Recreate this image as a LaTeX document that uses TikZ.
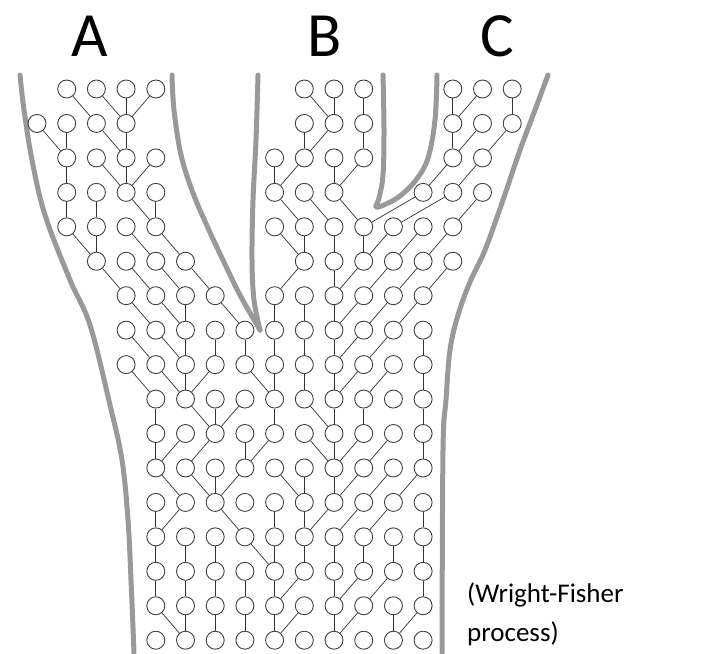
\documentclass[tikz,border=0pt]{standalone}
\usepackage{fontspec}
\setmainfont{Carlito}
\begin{document}
\begin{tikzpicture}[x=1pt,y=-1pt,
  ind/.style={circle, draw=black!75, line width=0.9pt, minimum size=18pt, inner sep=0pt},
  lnk/.style={draw=black!80, line width=0.7pt},
  band/.style={draw=black!40, line width=5pt, line cap=round, line join=round},
  big/.style={font=\fontsize{63}{63}\selectfont},
  captxt/.style={font=\fontsize{27}{27}\selectfont, anchor=base west, inner sep=0pt}]
\useasboundingbox (0,0) rectangle (711,653);
% gray bands
\draw[band] plot[smooth, tension=0.6] coordinates {(20,75) (24,110) (32,160) (45,215) (70,280) (90,325) (110,405) (122,460) (128,520) (131,580) (134,653)};
\draw[band] plot[smooth, tension=0.6] coordinates {(172,75) (174,110) (181,155) (193,193) (208,228) (222,258) (240,295) (260,330)};
\draw[band] plot[smooth, tension=0.6] coordinates {(260,330) (254,300) (252,260) (253,200) (256,140) (258,75)};
\draw[band] plot[smooth, tension=0.6] coordinates {(383,75) (384,130) (383,175) (379,198) (376,207) (386,204) (400,196) (416,180) (428,158) (435,120) (437,75)};
\draw[band] plot[smooth, tension=0.6] coordinates {(548,75) (535,110) (520,150) (503,200) (485,250) (470,282) (458,315) (450,350) (446,400) (443,450) (442,653)};
% circles
\foreach \c in {1,2,3,4,9,10,11,14,15,16} \node[ind] (n0-\c) at ({37+29.7*\c},{89+34.45*0}) {};
\foreach \c in {0,1,2,3,9,10,11,14,15,16} \node[ind] (n1-\c) at ({37+29.7*\c},{89+34.45*1}) {};
\foreach \c in {1,2,3,4,8,9,10,11,14,15} \node[ind] (n2-\c) at ({37+29.7*\c},{89+34.45*2}) {};
\foreach \c in {1,2,3,4,8,9,10,13,14,15} \node[ind] (n3-\c) at ({37+29.7*\c},{89+34.45*3}) {};
\foreach \c in {1,2,3,4,8,9,10,11,12,13,14} \node[ind] (n4-\c) at ({37+29.7*\c},{89+34.45*4}) {};
\foreach \c in {2,3,4,5,9,10,11,12,13,14} \node[ind] (n5-\c) at ({37+29.7*\c},{89+34.45*5}) {};
\foreach \c in {3,4,5,6,8,9,10,11,12,13} \node[ind] (n6-\c) at ({37+29.7*\c},{89+34.45*6}) {};
\foreach \c in {3,...,13} \node[ind] (n7-\c) at ({37+29.7*\c},{89+34.45*7}) {};
\foreach \c in {3,...,13} \node[ind] (n8-\c) at ({37+29.7*\c},{89+34.45*8}) {};
\foreach \r in {9,...,16} {
  \foreach \c in {4,...,13} \node[ind] (n\r-\c) at ({37+29.7*\c},{89+34.45*\r}) {};
}
% links (row r to row r+1)
\foreach \a/\b in {1/2,2/3,3/3,4/3,9/10,10/10,11/11,14/14,15/14,16/16} \draw[lnk] (n0-\a) -- (n1-\b);
\foreach \a/\b in {0/1,1/1,2/3,3/3,9/9,10/9,11/11,14/14,15/14,16/15} \draw[lnk] (n1-\a) -- (n2-\b);
\foreach \a/\b in {1/1,2/3,3/3,4/3,8/8,9/8,10/10,11/10,14/13,15/14} \draw[lnk] (n2-\a) -- (n3-\b);
\foreach \a/\b in {1/1,2/2,3/4,4/4,8/9,9/10,10/11,13/11,14/12,15/14} \draw[lnk] (n3-\a) -- (n4-\b);
\foreach \a/\b in {1/2,2/2,3/4,4/5,8/9,9/9,10/10,11/11,12/11,13/12,14/13} \draw[lnk] (n4-\a) -- (n5-\b);
\foreach \a/\b in {2/3,3/4,4/5,5/6,9/8,10/10,11/10,12/11,13/12,14/13} \draw[lnk] (n5-\a) -- (n6-\b);
\foreach \a/\b in {3/4,4/5,5/5,6/7,8/8,9/9,10/10,11/10,12/11,13/12} \draw[lnk] (n6-\a) -- (n7-\b);
\foreach \a/\b in {3/4,4/5,5/5,6/6,7/7,8/8,9/9,10/10,11/10,12/11,13/13} \draw[lnk] (n7-\a) -- (n8-\b);
\foreach \a/\b in {3/4,4/5,5/5,6/5,7/8,8/8,9/9,10/10,11/10,12/11,13/13} \draw[lnk] (n8-\a) -- (n9-\b);
\foreach \a/\b in {4/4,5/6,6/6,7/6,8/8,9/10,10/10,11/11,13/13} \draw[lnk] (n9-\a) -- (n10-\b);
\foreach \a/\b in {4/4,5/4,6/5,7/7,8/7,9/10,10/10,11/10,12/11,13/13} \draw[lnk] (n10-\a) -- (n11-\b);
\foreach \a/\b in {4/5,5/6,6/6,7/6,8/9,9/9,10/10,11/10,12/11,13/12} \draw[lnk] (n11-\a) -- (n12-\b);
\foreach \a/\b in {4/4,5/4,6/7,8/8,9/9,10/9,11/10,12/11,13/13} \draw[lnk] (n12-\a) -- (n13-\b);
\foreach \a/\b in {4/4,5/5,6/6,7/8,8/8,9/9,10/10,11/11,12/12,13/13} \draw[lnk] (n13-\a) -- (n14-\b);
\foreach \a/\b in {4/4,5/5,6/6,7/7,8/8,9/8,10/10,11/10,12/11,13/13} \draw[lnk] (n14-\a) -- (n15-\b);
\foreach \a/\b in {4/5,5/5,6/6,7/7,8/8,9/8,10/10,11/10,12/12,13/12} \draw[lnk] (n15-\a) -- (n16-\b);
% labels
\node[big] (lA) at (90,36) {A};
\node[big] (lB) at (325,36) {B};
\node[big] (lC) at (497,36) {C};
\node[captxt] (t1) at (467,602) {(Wright-Fisher};
\node[captxt] (t2) at (467,641) {process)};
\end{tikzpicture}
\end{document}
